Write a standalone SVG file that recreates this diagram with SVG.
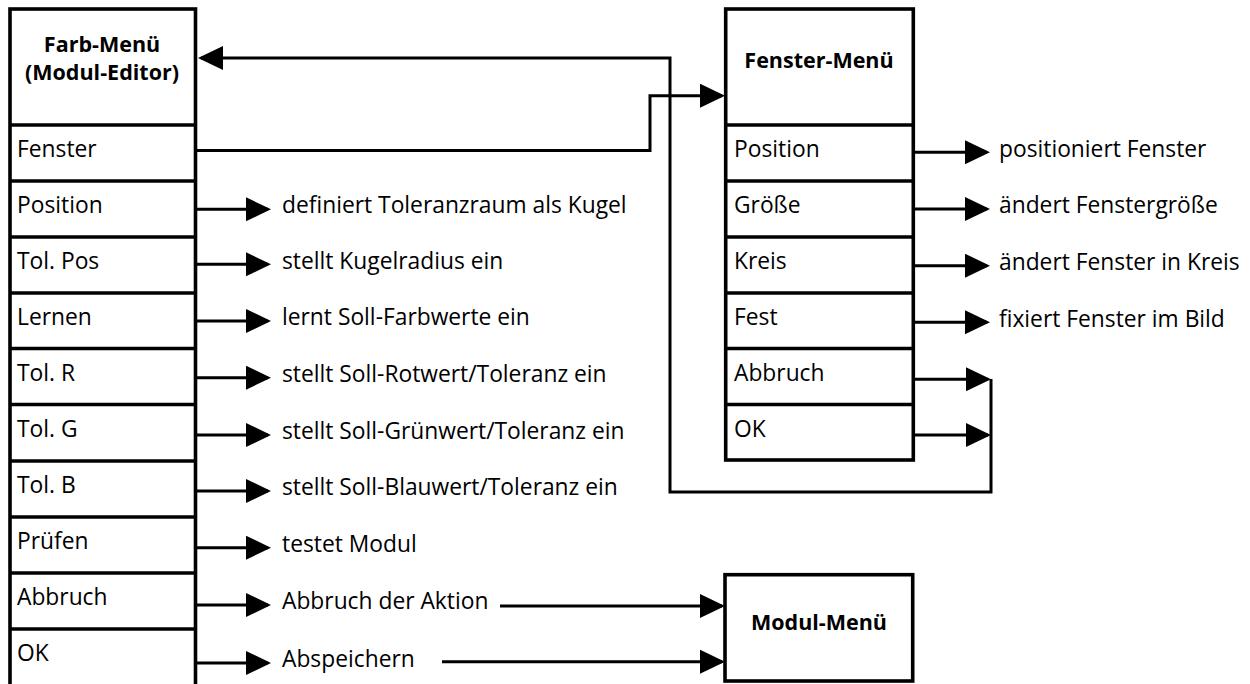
<svg xmlns="http://www.w3.org/2000/svg" width="1250" height="684" viewBox="0 0 1250 684">
<style>
.box{fill:#fff;stroke:#000;stroke-width:3.6}
.sep{stroke:#000;stroke-width:3.6}
.con{fill:none;stroke:#000;stroke-width:3}
.t{font-family:"Open Sans","Noto Sans",sans-serif;font-size:22.8px;fill:#000}
.b{font-family:"Open Sans","Noto Sans",sans-serif;font-size:21.5px;font-weight:bold;fill:#000;text-anchor:middle}
</style>
<defs>
<marker id="ah" markerUnits="userSpaceOnUse" markerWidth="26" markerHeight="26" refX="22" refY="12" orient="auto">
<path d="M0,0 L25,12 L0,24 z" fill="#000"/>
</marker>
</defs>

<g id="farb-menu">
<rect class="box" x="10" y="9" width="185.5" height="680"/>
<line class="sep" x1="10" y1="125" x2="195.5" y2="125"/>
<line class="sep" x1="10" y1="181" x2="195.5" y2="181"/>
<line class="sep" x1="10" y1="237" x2="195.5" y2="237"/>
<line class="sep" x1="10" y1="293" x2="195.5" y2="293"/>
<line class="sep" x1="10" y1="348.5" x2="195.5" y2="348.5"/>
<line class="sep" x1="10" y1="404.5" x2="195.5" y2="404.5"/>
<line class="sep" x1="10" y1="461" x2="195.5" y2="461"/>
<line class="sep" x1="10" y1="517" x2="195.5" y2="517"/>
<line class="sep" x1="10" y1="573" x2="195.5" y2="573"/>
<line class="sep" x1="10" y1="629" x2="195.5" y2="629"/>
<text class="b" x="102" y="52">Farb-Menü</text>
<text class="b" x="102" y="80">(Modul-Editor)</text>
<text class="t" x="17" y="157">Fenster</text>
<text class="t" x="17" y="213">Position</text>
<text class="t" x="17" y="269">Tol. Pos</text>
<text class="t" x="17" y="325">Lernen</text>
<text class="t" x="17" y="381">Tol. R</text>
<text class="t" x="17" y="437">Tol. G</text>
<text class="t" x="17" y="493">Tol. B</text>
<text class="t" x="17" y="549">Prüfen</text>
<text class="t" x="17" y="605">Abbruch</text>
<text class="t" x="17" y="661">OK</text>
</g>

<g id="fenster-menu">
<rect class="box" x="725.7" y="9" width="187.6" height="451"/>
<line class="sep" x1="725.7" y1="125" x2="913.3" y2="125"/>
<line class="sep" x1="725.7" y1="181" x2="913.3" y2="181"/>
<line class="sep" x1="725.7" y1="237" x2="913.3" y2="237"/>
<line class="sep" x1="725.7" y1="293" x2="913.3" y2="293"/>
<line class="sep" x1="725.7" y1="348.5" x2="913.3" y2="348.5"/>
<line class="sep" x1="725.7" y1="404.5" x2="913.3" y2="404.5"/>
<text class="b" x="819" y="68">Fenster-Menü</text>
<text class="t" x="734" y="157">Position</text>
<text class="t" x="734" y="213">Größe</text>
<text class="t" x="734" y="269">Kreis</text>
<text class="t" x="734" y="325">Fest</text>
<text class="t" x="734" y="381">Abbruch</text>
<text class="t" x="734" y="437">OK</text>
</g>

<g id="modul-menu">
<rect class="box" x="725" y="574.7" width="187.7" height="106.3"/>
<text class="b" x="819" y="630">Modul-Menü</text>
</g>

<g id="labels">
<text class="t" x="282" y="213">definiert Toleranzraum als Kugel</text>
<text class="t" x="282" y="269">stellt Kugelradius ein</text>
<text class="t" x="282" y="325">lernt Soll-Farbwerte ein</text>
<text class="t" x="282" y="382">stellt Soll-Rotwert/Toleranz ein</text>
<text class="t" x="282" y="439">stellt Soll-Grünwert/Toleranz ein</text>
<text class="t" x="282" y="495">stellt Soll-Blauwert/Toleranz ein</text>
<text class="t" x="282" y="552">testet Modul</text>
<text class="t" x="282" y="609">Abbruch der Aktion</text>
<text class="t" x="282" y="667">Abspeichern</text>
<text class="t" x="999" y="157">positioniert Fenster</text>
<text class="t" x="999" y="213">ändert Fenstergröße</text>
<text class="t" x="999" y="270">ändert Fenster in Kreis</text>
<text class="t" x="999" y="327">fixiert Fenster im Bild</text>
</g>

<g id="connectors">
<path class="con" d="M991,379 V492 H670 V58 H201" marker-end="url(#ah)"/>
<path class="con" d="M196,150.5 H650 V95.7 H722" marker-end="url(#ah)"/>
<path class="con" d="M196,209.3 H268" marker-end="url(#ah)"/>
<path class="con" d="M196,264.3 H268" marker-end="url(#ah)"/>
<path class="con" d="M196,321 H268" marker-end="url(#ah)"/>
<path class="con" d="M196,377.7 H268" marker-end="url(#ah)"/>
<path class="con" d="M196,435 H268" marker-end="url(#ah)"/>
<path class="con" d="M196,491 H268" marker-end="url(#ah)"/>
<path class="con" d="M196,547.7 H268" marker-end="url(#ah)"/>
<path class="con" d="M196,605 H268" marker-end="url(#ah)"/>
<path class="con" d="M196,663 H268" marker-end="url(#ah)"/>
<path class="con" d="M500,606 H722" marker-end="url(#ah)"/>
<path class="con" d="M442,661.7 H722" marker-end="url(#ah)"/>
<path class="con" d="M913,152.3 H987" marker-end="url(#ah)"/>
<path class="con" d="M913,209 H987" marker-end="url(#ah)"/>
<path class="con" d="M913,265.7 H987" marker-end="url(#ah)"/>
<path class="con" d="M913,322.3 H987" marker-end="url(#ah)"/>
<path class="con" d="M913,379.3 H988" marker-end="url(#ah)"/>
<path class="con" d="M913,435 H988" marker-end="url(#ah)"/>
</g>
</svg>
